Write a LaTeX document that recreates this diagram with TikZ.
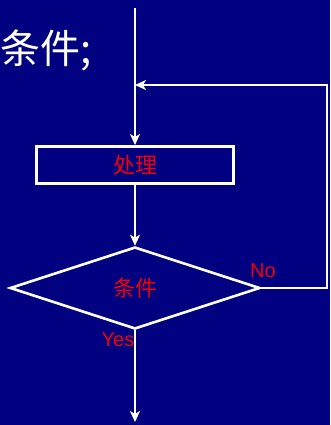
\documentclass[tikz,border=0pt]{standalone}
\usepackage{fontspec}
\setmainfont{Liberation Sans}
\newfontfamily\cjk{Noto Sans CJK SC}
\usetikzlibrary{arrows.meta}
\usetikzlibrary{shapes.geometric}
\usepackage{xcolor}
\definecolor{bgblue}{RGB}{0,0,128}
\definecolor{txtred}{RGB}{245,0,0}
\tikzset{
  flow/.style={white, line width=2.6pt, -{Stealth[length=11pt, width=10pt, inset=3pt]}},
  procbox/.style={draw=white, line width=3pt, minimum width=197pt, minimum height=37pt, inner sep=0pt, text=txtred, font=\cjk\fontsize{22}{22}\selectfont},
  cond/.style={diamond, draw=white, line width=2.6pt, minimum width=250pt, minimum height=82pt, inner sep=0pt, text=txtred, font=\cjk\fontsize{22}{22}\selectfont},
  lbl/.style={text=txtred, font=\fontsize{20}{20}\selectfont, inner sep=0pt}
}

\begin{document}
\begin{tikzpicture} [x=1pt, y=-1pt]
\fill[bgblue] (0,0) rectangle (330,425);
\useasboundingbox (0,0) rectangle (330,425);
\node[anchor=west, white, inner sep=0pt, font=\cjk\fontsize{40}{40}\selectfont] (title) at (0,50) {条件;};
\coordinate (top) at (135,8);
\node[procbox] (proc) at (135,165) {处理};
\node[cond] (test) at (135,288) {条件};
\coordinate (loopb) at (327,288);
\coordinate (loopt) at (327,85);
\coordinate (join) at (135,85);
\coordinate (bottom) at (135,422);
\draw[flow] (top)--(proc.north);
\draw[flow] (proc.south)--(test.north);
\draw[flow] (test.east)--(loopb)--(loopt)--(join);
\draw[flow] (test.south)--(bottom);
\node[lbl, anchor=west] (no) at (250,271) {No};
\node[lbl] (yes) at (118,340) {Yes};
\end{tikzpicture}
\end{document}
